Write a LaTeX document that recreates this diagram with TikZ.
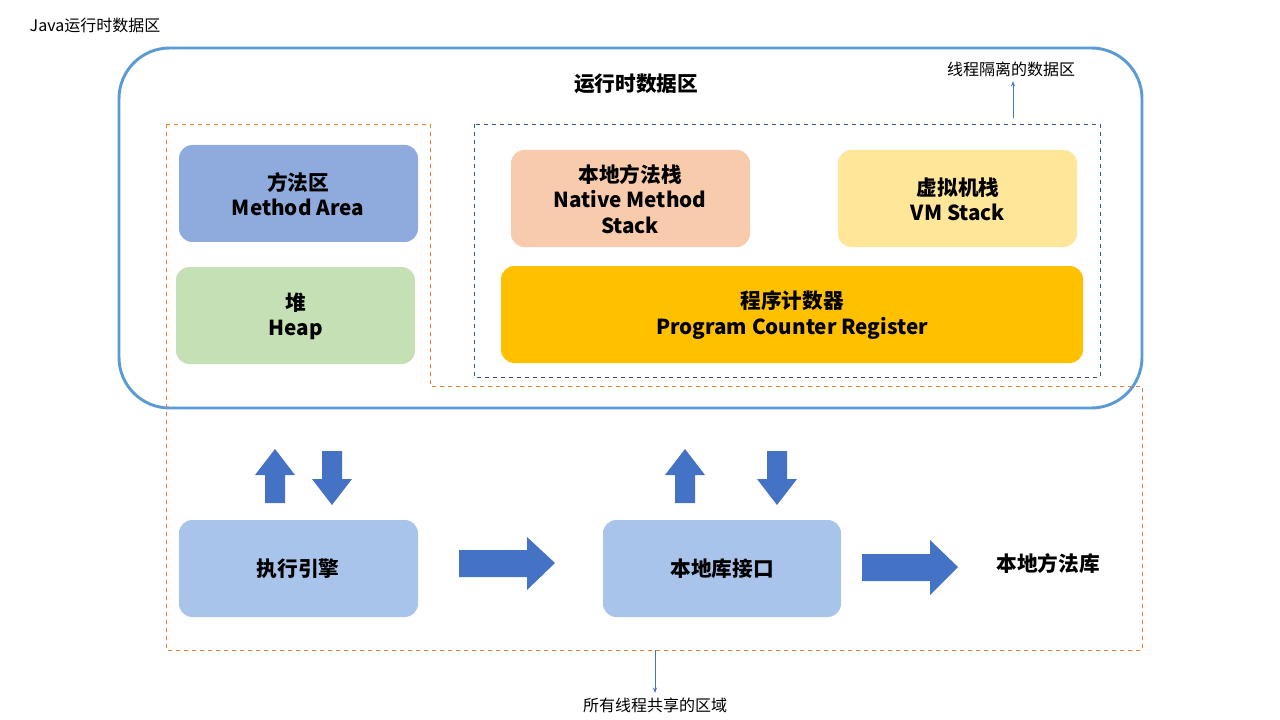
\documentclass[tikz,border=0pt]{standalone}
\usepackage{fontspec}
\setmainfont{Noto Sans CJK SC}
\usetikzlibrary{arrows.meta}
\begin{document}
\begin{tikzpicture}[x=0.75pt,y=-0.75pt,
 box/.style={rounded corners=10pt,draw=none,align=center,font=\fontsize{15.5}{19}\selectfont\bfseries},
 small/.style={font=\fontsize{12}{14}\selectfont},
 barrow/.style={fill=blkarrow,draw=none}]
\definecolor{bigblue}{RGB}{91,155,213}
\definecolor{orng}{RGB}{237,125,49}
\definecolor{dblue}{RGB}{47,85,151}
\definecolor{blkarrow}{RGB}{68,114,196}
\useasboundingbox (0,0) rectangle (1280,720);
\node[small,anchor=west] (t) at (25,25) {Java运行时数据区};
\draw[bigblue,line width=2.2pt,rounded corners=38pt] (119,48) rectangle (1142,408);
\node[font=\fontsize{15.5}{19}\selectfont\bfseries] (rt) at (636,84) {运行时数据区};
\node[small] (iso) at (1011,69) {线程隔离的数据区};
\coordinate (isoS) at (1013,118);
\draw[blkarrow,-{Stealth[length=4pt]}] (isoS) -- (iso.south -| isoS);
\draw[orng,dashed,line width=0.6pt] (166,124) -- (430,124) -- (430,386) -- (1142,386) -- (1142,650) -- (166,650) -- cycle;
\draw[dblue,dashed,line width=0.6pt] (474,124) rectangle (1100,377);
\path[box,fill={rgb,255:red,143;green,170;blue,220}] (179,145) rectangle (418,242);
\node[box] (ma) at (298,194) {方法区\\Method Area};
\path[box,fill={rgb,255:red,197;green,224;blue,180}] (176,267) rectangle (415,364);
\node[box] (hp) at (296,316) {堆\\Heap};
\path[box,fill={rgb,255:red,248;green,203;blue,173}] (511,150) rectangle (750,247);
\node[box] (nm) at (630,199) {本地方法栈\\Native Method\\Stack};
\path[box,fill={rgb,255:red,255;green,230;blue,153}] (838,150) rectangle (1077,247);
\node[box] (vm) at (958,199) {虚拟机栈\\VM Stack};
\path[box,fill={rgb,255:red,255;green,192;blue,0}] (501,266) rectangle (1083,363);
\node[box] (pc) at (792,315) {程序计数器\\Program Counter Register};
\path[box,fill={rgb,255:red,169;green,196;blue,235}] (179,520) rectangle (418,617);
\node[box] (ee) at (298,569) {执行引擎};
\path[box,fill={rgb,255:red,169;green,196;blue,235}] (603,520) rectangle (841,617);
\node[box] (ni) at (722,569) {本地库接口};
\node[box] (nl) at (1048,564) {本地方法库};
% up arrows
\foreach \cx in {275,685}{
 \fill[barrow] (\cx-10,503) -- (\cx-10,475) -- (\cx-20,475) -- (\cx,449) -- (\cx+20,475) -- (\cx+10,475) -- (\cx+10,503) -- cycle;}
\foreach \cx in {332,777}{
 \fill[barrow] (\cx-10,451) -- (\cx-10,479) -- (\cx-20,479) -- (\cx,505) -- (\cx+20,479) -- (\cx+10,479) -- (\cx+10,451) -- cycle;}
\fill[barrow] (459,550) -- (527,550) -- (527,537) -- (555,563) -- (527,590) -- (527,577) -- (459,577) -- cycle;
\fill[barrow] (862,554) -- (930,554) -- (930,540) -- (958,567) -- (930,595) -- (930,581) -- (862,581) -- cycle;
\node[small] (sh) at (655,705) {所有线程共享的区域};
\coordinate (shN) at (655,650);
\draw[blkarrow,-{Stealth[length=4pt]}] (shN) -- (sh.north -| shN);
\end{tikzpicture}
\end{document}
